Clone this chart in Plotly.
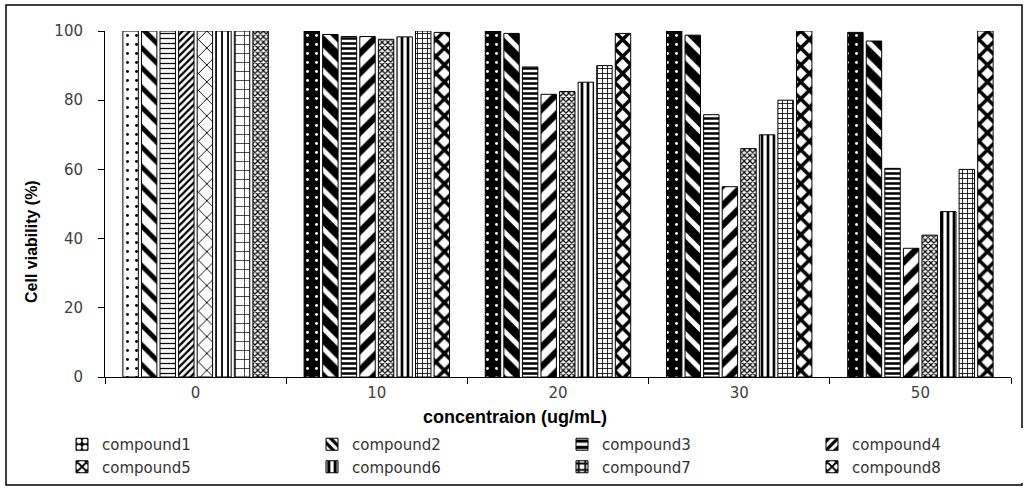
import plotly.graph_objects as go

# Concentrations (ug/mL) and cell viability (%) for each compound
concentrations = ["0", "10", "20", "30", "50"]
compound1 = [100, 100, 100, 100, 99.6]
compound2 = [100, 99.0, 99.3, 98.8, 97.1]
compound3 = [100, 98.4, 89.6, 75.8, 60.3]
compound4 = [100, 98.4, 81.7, 55.0, 37.2]
compound5 = [100, 97.6, 82.5, 66.0, 41.0]
compound6 = [100, 98.3, 85.2, 70.0, 47.8]
compound7 = [100, 100, 90.0, 80.0, 60.0]
compound8 = [100, 99.6, 99.3, 100, 100]

series = [
    ("compound1", compound1),
    ("compound2", compound2),
    ("compound3", compound3),
    ("compound4", compound4),
    ("compound5", compound5),
    ("compound6", compound6),
    ("compound7", compound7),
    ("compound8", compound8),
]

x_title = "concentraion (ug/mL)"
y_title = "Cell viability (%)"

# Fill styles (shape, size, solidity, fgcolor, bgcolor): light fills for
# the 0 ug/mL control bars, heavier fills for the treated bars.
control_style = [
    (".", 9, 0.08, "black", "white"),
    ("\\", 14, 0.35, "black", "white"),
    ("-", 5, 0.25, "black", "white"),
    ("/", 5, 0.45, "black", "white"),
    ("x", 12, 0.15, "black", "white"),
    ("|", 6, 0.3, "black", "white"),
    ("+", 9, 0.15, "black", "white"),
    ("x", 4, 0.5, "black", "white"),
]
treated_style = [
    (".", 9, 0.08, "white", "black"),
    ("\\", 14, 0.35, "white", "black"),
    ("-", 5, 0.5, "black", "white"),
    ("/", 14, 0.45, "black", "white"),
    ("x", 4, 0.5, "black", "white"),
    ("|", 6, 0.45, "black", "white"),
    ("+", 5, 0.3, "black", "white"),
    ("x", 12, 0.5, "black", "white"),
]

# Treated concentrations first so the legend swatch shows the treated fill;
# the category axis keeps the natural order.
order = [1, 2, 3, 4, 0]

fig = go.Figure()
for i, (name, values) in enumerate(series):
    styles = [control_style[i] if k == 0 else treated_style[i] for k in order]
    fig.add_trace(go.Bar(
        name=name,
        x=[concentrations[k] for k in order],
        y=[values[k] for k in order],
        marker=dict(
            color="black",
            line=dict(color="black", width=1),
            pattern=dict(
                shape=styles[0][0],
                size=[s[1] for s in styles],
                solidity=[s[2] for s in styles],
                fgcolor=[s[3] for s in styles],
                bgcolor=[s[4] for s in styles],
                fillmode="replace",
            ),
        ),
    ))

# plot area: x 105..1011, y 31..377 px
PW, PH = 906, 346

fig.update_layout(
    width=1028,
    height=489,
    margin=dict(l=105, r=17, t=31, b=112, autoexpand=False),
    paper_bgcolor="white",
    plot_bgcolor="white",
    barmode="group",
    bargap=0.18,
    bargroupgap=0.17,
    font=dict(family="DejaVu Sans", size=15, color="#404040"),
    showlegend=True,
    legend=dict(
        orientation="h",
        x=(62 - 105) / PW,
        xanchor="left",
        y=(377 - 428) / PH,
        yanchor="top",
        entrywidth=205,
        entrywidthmode="pixels",
        font=dict(family="DejaVu Sans", size=15, color="#333333"),
        itemwidth=30,
    ),
    shapes=[
        dict(
            type="rect", xref="paper", yref="paper",
            x0=(6 - 105) / PW, x1=(1022 - 105) / PW,
            y0=(377 - 485) / PH, y1=(377 - 5) / PH,
            line=dict(color="black", width=1.5),
            fillcolor="rgba(0,0,0,0)",
            layer="below",
        )
    ],
    annotations=[
        dict(
            text="<b>" + x_title + "</b>",
            xref="paper", yref="paper",
            x=(515 - 105) / PW, y=(377 - 417) / PH,
            xanchor="center", yanchor="middle",
            showarrow=False,
            font=dict(family="Liberation Sans", size=18, color="black"),
        ),
        dict(
            text="<b>" + y_title + "</b>",
            xref="paper", yref="paper",
            x=(31 - 105) / PW, y=(377 - 242) / PH,
            xanchor="center", yanchor="middle",
            textangle=-90,
            showarrow=False,
            font=dict(family="Liberation Sans", size=16, color="black"),
        ),
    ],
)

fig.update_xaxes(
    type="category",
    categoryorder="array",
    categoryarray=concentrations,
    showline=True,
    linecolor="black",
    linewidth=1,
    ticks="outside",
    ticklen=6,
    tickcolor="black",
    tickson="boundaries",
    ticklabelstandoff=2,
    showgrid=False,
    tickfont=dict(family="DejaVu Sans", size=15, color="#404040"),
)

fig.update_yaxes(
    range=[0, 100],
    tickvals=[0, 20, 40, 60, 80, 100],
    showline=True,
    linecolor="black",
    linewidth=1,
    ticks="outside",
    ticklen=6,
    tickcolor="black",
    ticklabelstandoff=12,
    showgrid=False,
    zeroline=False,
    tickfont=dict(family="DejaVu Sans", size=15, color="#404040"),
)

fig.write_html("out.html")
